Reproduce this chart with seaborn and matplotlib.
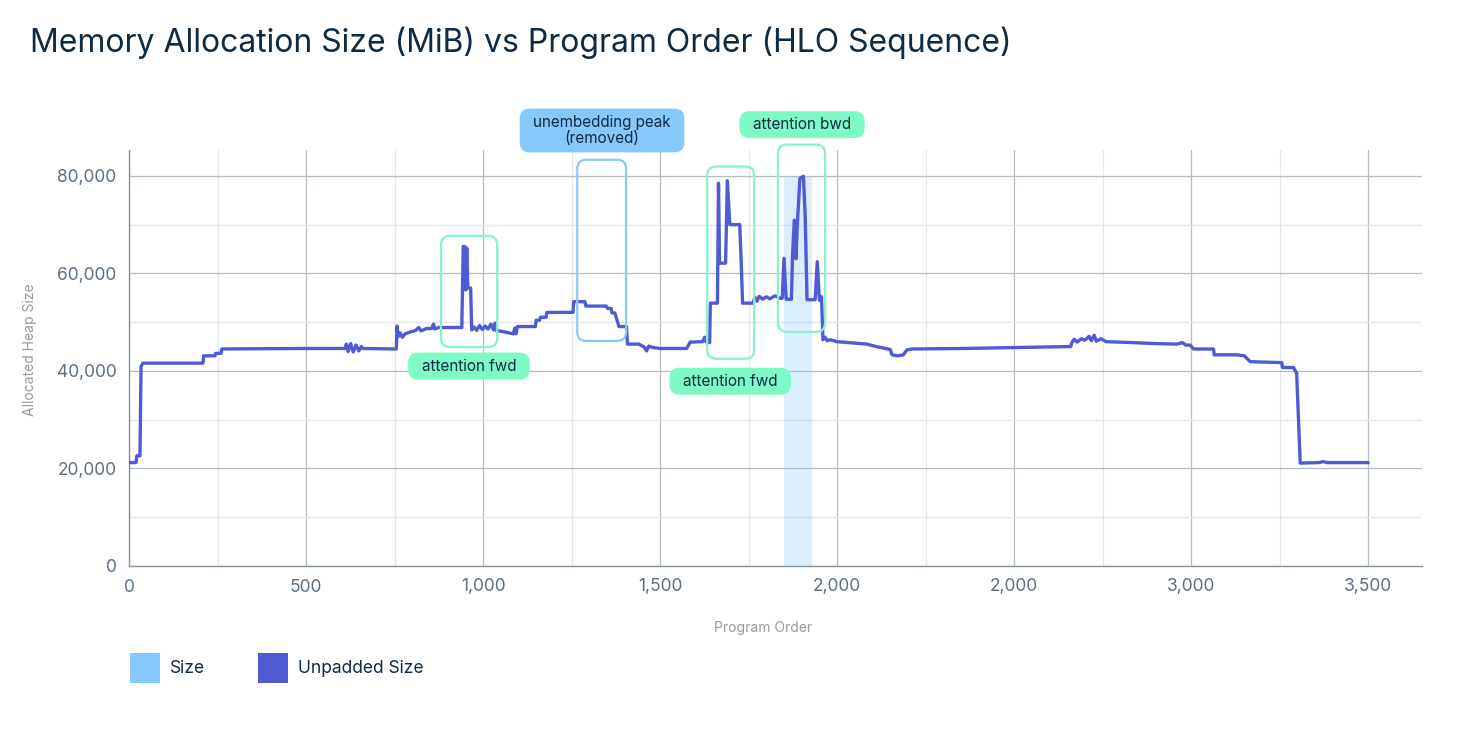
import pandas as pd
import matplotlib
matplotlib.use('Agg')
import matplotlib.pyplot as plt
import seaborn as sns
from matplotlib.patches import FancyBboxPatch, Patch

# program order (HLO sequence position) and unpadded heap size in MiB
order = [0, 20, 22, 31, 34, 39, 209, 211, 243, 245, 260, 262, 480, 610, 614, 619, 626, 633, 641, 649, 656, 661,
         755, 757, 760, 766, 772, 780, 795, 810, 818, 825, 840, 855, 860, 864, 875, 940, 942, 944, 948, 951, 954,
         957, 965, 968, 975, 982, 990, 998, 1006, 1014, 1022, 1030, 1034, 1038, 1060, 1085, 1090, 1093, 1097,
         1148, 1150, 1160, 1162, 1178, 1180, 1254, 1256, 1288, 1290, 1348, 1352, 1362, 1364, 1372, 1378, 1384,
         1405, 1408, 1440, 1455, 1462, 1468, 1480, 1500, 1575, 1585, 1620, 1626, 1630, 1640, 1642, 1662, 1665,
         1668, 1685, 1690, 1697, 1725, 1729, 1733, 1762, 1768, 1774, 1780, 1790, 1800, 1810, 1825, 1838, 1845,
         1850, 1856, 1871, 1874, 1879, 1884, 1888, 1895, 1905, 1910, 1915, 1938, 1944, 1950, 1956, 1960, 1966,
         1972, 1980, 2000, 2084, 2110, 2150, 2155, 2170, 2187, 2197, 2212, 2356, 2508, 2660, 2663, 2670, 2678,
         2690, 2700, 2712, 2718, 2726, 2732, 2745, 2760, 2837, 2900, 2960, 2975, 2985, 2997, 3007, 3063, 3065,
         3129, 3150, 3167, 3256, 3258, 3289, 3298, 3308, 3360, 3373, 3385, 3500]
unpadded_mib = [21200, 21200, 22600, 22600, 40900, 41600, 41600, 43100, 43100, 43600, 43600, 44500, 44600, 44600,
                45500, 44000, 45600, 43900, 45300, 44100, 45000, 44600,
                44500, 49200, 47000, 47800, 46900, 47600, 48000, 48300, 48900, 48200, 48700, 48700, 49600, 48600,
                48900, 48900, 57300, 65500, 65500, 56600, 65200,
                57000, 57000, 48400, 49000, 48300, 49300, 48500, 49200, 48600, 49600, 48400, 49800, 48300, 48000,
                47600, 48800, 47600, 49100,
                49100, 50400, 50400, 51000, 51000, 52000, 52000, 54200, 54200, 53300, 53300, 52800, 52800, 51900,
                51900, 50500, 49100,
                49100, 45500, 45500, 44900, 44100, 45100, 44800, 44600, 44600, 45900, 46000, 46900, 46000, 45800,
                53900, 53900, 78500,
                62100, 62100, 79000, 70000, 70000, 62600, 53900, 53900, 55100, 54300, 55300, 54700, 55200, 54800,
                55400, 54900, 54900,
                63100, 54700, 54700, 63400, 70900, 63000, 70500, 79500, 79900, 71300, 54600, 54600, 62400, 54500,
                55200, 46400, 46900,
                46200, 46400, 46000, 45500, 45000, 44400, 43300, 43100, 43300, 44300, 44500, 44600, 44800, 45000,
                45800, 46500, 45900,
                46600, 46300, 47100, 46200, 47300, 46100, 46600, 46000, 45800, 45600, 45500, 45800, 45300, 45300,
                44500, 44500, 43300,
                43300, 43100, 41900, 41700, 40700, 40700, 39500, 21100, 21200, 21400, 21200, 21200]

# padded "Size" series only shows up as one shaded block
size_start = 1850
size_end = 1930
size_mib = 79800

tick_values = [0, 500, 1000, 1500, 2000, 2500, 3000, 3500]
tick_labels = ['0', '500', '1,000', '1,500', '2,000', '2,000', '3,000', '3,500']

# annotation regions: (label, x0, x1, y0, y1, colour, label_x, label_y)
notes = [
    ('attention fwd', 881, 1040, 44900, 67700, 'green', 960, 41000),
    ('unembedding peak\n(removed)', 1266, 1404, 46150, 83300, 'blue', 1336, 89300),
    ('attention fwd', 1633, 1766, 42500, 81900, 'green', 1698, 37900),
    ('attention bwd', 1833, 1966, 48000, 86400, 'green', 1901, 90500),
]

df = pd.DataFrame({'order': order, 'unpadded': unpadded_mib})

sns.set_theme(style='white')
plt.rcParams['font.family'] = ['Inter', 'DejaVu Sans']

navy = '#0f2a43'
tick_col = '#5b7083'
line_col = '#4f5bd5'
size_col = '#86c8fc'
mint = '#7dfac6'
mint_edge = '#86f3c9'
blue_edge = '#8ac8f6'

fig = plt.figure(figsize=(14.68, 7.30), dpi=100)
ax = fig.add_axes([129 / 1468, 164 / 730, 1293 / 1468, 416 / 730])

xmax, ymax = 3652, 85300
ax.set_xlim(0, xmax)
ax.set_ylim(0, ymax)

ax.fill_between([size_start, size_end], 0, size_mib, color=size_col, alpha=0.3, linewidth=0, zorder=1)
sns.lineplot(data=df, x='order', y='unpadded', estimator=None, sort=False, color=line_col,
             linewidth=2.4, ax=ax, zorder=3)

ax.set_xticks(tick_values)
ax.set_xticklabels(tick_labels)
ax.set_yticks([0, 20000, 40000, 60000, 80000])
ax.set_yticklabels(['0', '20,000', '40,000', '60,000', '80,000'])
ax.set_xticks(range(250, 3750, 500), minor=True)
ax.set_yticks(range(10000, 90000, 20000), minor=True)
ax.grid(which='major', color='#b3bcc5', linewidth=0.9, zorder=0)
ax.grid(which='minor', color='#e4e7eb', linewidth=0.9, zorder=0)
ax.set_axisbelow(True)
ax.tick_params(axis='both', which='both', length=0, labelsize=12.5, labelcolor=tick_col)
ax.tick_params(axis='y', pad=9)
ax.tick_params(axis='x', pad=9)
for side in ['top', 'right']:
    ax.spines[side].set_visible(False)
for side in ['left', 'bottom']:
    ax.spines[side].set_color('#8795a3')
    ax.spines[side].set_linewidth(1.0)

ax.set_xlabel('Program Order', fontsize=10, color='#9a9a9a')
ax.set_ylabel('Allocated Heap Size', fontsize=10, color='#9a9a9a')
ax.xaxis.set_label_coords(0.490, -0.133)
ax.yaxis.set_label_coords(-0.0712, 0.519)

# rounded boxes: keep the corners round although x and y units differ a lot
xu = xmax / 1293
yu = ymax / 416
texts = []
for label, x0, x1, y0, y1, kind, lx, ly in notes:
    edge = mint_edge if kind == 'green' else blue_edge
    box = FancyBboxPatch((x0, y0), x1 - x0, y1 - y0,
                         boxstyle='round,pad=0,rounding_size=%f' % (9 * xu),
                         mutation_aspect=yu / xu, facecolor='none', edgecolor=edge,
                         linewidth=1.6, zorder=4, clip_on=False)
    ax.add_patch(box)
    t = ax.text(lx, ly, label, ha='center', va='center', fontsize=11, color=navy, linespacing=1.15,
                zorder=6, clip_on=False)
    texts.append((t, kind, lx, ly))

# label pills sized from the text extent
fig.canvas.draw()
renderer = fig.canvas.get_renderer()
for t, kind, lx, ly in texts:
    bb = t.get_window_extent(renderer)
    w = (bb.width + 27) * xu
    h = (bb.height + 12) * yu
    fill = mint if kind == 'green' else size_col
    pill = FancyBboxPatch((lx - w / 2, ly - h / 2), w, h,
                          boxstyle='round,pad=0,rounding_size=%f' % (10 * xu),
                          mutation_aspect=yu / xu, facecolor=fill, edgecolor='none',
                          zorder=5, clip_on=False)
    ax.add_patch(pill)

fig.text(30 / 1468, 1 - 52 / 730, 'Memory Allocation Size (MiB) vs Program Order (HLO Sequence)',
         fontsize=23, color=navy, va='baseline', ha='left')

handles = [Patch(facecolor=size_col, edgecolor='none', label='Size'),
           Patch(facecolor=line_col, edgecolor='none', label='Unpadded Size')]
leg = fig.legend(handles=handles, loc='center left', bbox_to_anchor=(114 / 1468, 1 - 668 / 730), ncol=2,
                 frameon=False, fontsize=12.5, handlelength=1.75, handleheight=2.2, handletextpad=0.6,
                 columnspacing=3.0)
for t in leg.get_texts():
    t.set_color(navy)

fig.savefig('out.png', dpi=100)
